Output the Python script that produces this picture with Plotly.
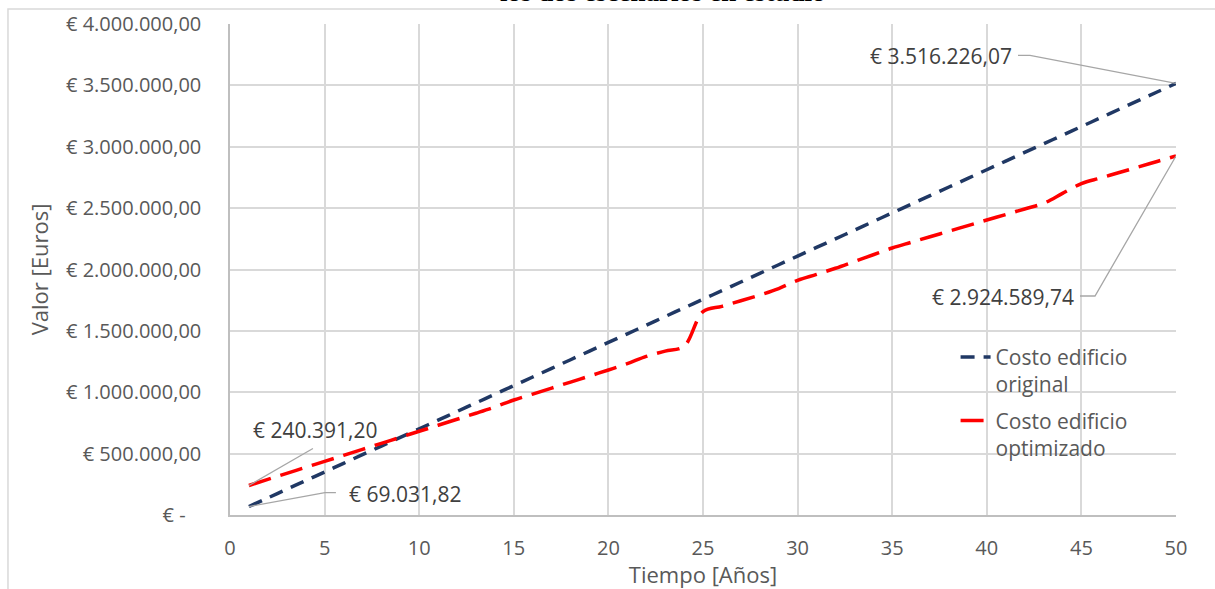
import plotly.graph_objects as go

# ---------------- data ----------------
anios = list(range(1, 51))

costo_original = [
    69031.82, 139384, 209736, 280088, 350440, 420792, 491144, 561495, 631847, 702199,
    772551, 842903, 913255, 983607, 1053959, 1124311, 1194663, 1265015, 1335367, 1405718,
    1476070, 1546422, 1616774, 1687126, 1757478, 1827830, 1898182, 1968534, 2038886, 2109238,
    2179590, 2249941, 2320293, 2390645, 2460997, 2531349, 2601701, 2672053, 2742405, 2812757,
    2883109, 2953461, 3023813, 3094164, 3164516, 3234868, 3305220, 3375572, 3445924, 3516226.07,
]

costo_optimizado = [
    240391.20, 290000, 339000, 388000, 437000, 486000, 535000, 584000, 633000, 682000,
    731000, 780000, 829000, 880000, 937000, 985000, 1034000, 1083000, 1132000, 1181000,
    1233000, 1292000, 1335000, 1375000, 1656000, 1700000, 1745000, 1792000, 1845000, 1912000,
    1960000, 2010000, 2065000, 2120000, 2175000, 2221000, 2267000, 2312000, 2358000, 2403000,
    2448000, 2493000, 2539000, 2620000, 2700000, 2745000, 2790000, 2835000, 2880000, 2924589.74,
]

nombres_series = ["Costo edificio<br>original", "Costo edificio<br>optimizado"]

y_tickvals = [0, 500000, 1000000, 1500000, 2000000, 2500000, 3000000, 3500000, 4000000]
y_ticktext = ["€ -\u00a0\u00a0\u00a0", "€ 500.000,00", "€ 1.000.000,00", "€ 1.500.000,00",
              "€ 2.000.000,00", "€ 2.500.000,00", "€ 3.000.000,00", "€ 3.500.000,00",
              "€ 4.000.000,00"]
x_tickvals = [0, 5, 10, 15, 20, 25, 30, 35, 40, 45, 50]

titulo = "los dos escenarios en estudio"
titulo_x = "Tiempo [Años]"
titulo_y = "Valor [Euros]"


def euros(v):
    s = f"{v:,.2f}".replace(",", "X").replace(".", ",").replace("X", ".")
    return "€ " + s


FONT = "Open Sans"
GRIS_TXT = "#595959"
GRIS_LBL = "#404040"
GRIS_LINEA = "#a6a6a6"

fig = go.Figure()
fig.add_trace(go.Scatter(
    x=anios, y=costo_original, mode="lines", name=nombres_series[0], legendgroup="a",
    line=dict(color="#203864", width=3.5, dash="14px,9px", shape="spline"),
))
fig.add_trace(go.Scatter(
    x=anios, y=costo_optimizado, mode="lines", name=nombres_series[1], legendgroup="b",
    line=dict(color="#ff0000", width=3.5, dash="23px,10px", shape="spline"),
))

# leader lines anchored at data points (pixel offsets, y up)
leaders = [
    (anios[-1], costo_original[-1], "M0,0 L-146,28 L-158,28"),
    (anios[-1], costo_optimizado[-1], "M0,0 L-81,-140 L-96,-140"),
    (anios[0], costo_optimizado[0], "M0,0 L64,37"),
    (anios[0], costo_original[0], "M0,0 L76,14 L87,14"),
]
for xa, ya, p in leaders:
    fig.add_shape(type="path", xref="x", yref="y", xsizemode="pixel", ysizemode="pixel",
                  xanchor=xa, yanchor=ya, path=p,
                  line=dict(color=GRIS_LINEA, width=1.3))

labels = [
    (anios[-1], costo_original[-1], "right", -162, 27),
    (anios[-1], costo_optimizado[-1], "right", -100, -141),
    (anios[0], costo_optimizado[0], "center", 66, 55),
    (anios[0], costo_original[0], "left", 98, 13),
]
for xa, ya, anc, dx, dy in labels:
    fig.add_annotation(x=xa, y=ya, xref="x", yref="y", text=euros(ya), showarrow=False,
                       xanchor=anc, yanchor="middle", xshift=dx, yshift=dy,
                       font=dict(family=FONT, size=21, color=GRIS_LBL))

# truncated title at top
fig.add_annotation(x=0.4577, y=1.065, xref="paper", yref="paper", text=f"<b>{titulo}</b>",
                   showarrow=False, xanchor="center", yanchor="middle",
                   font=dict(family="Liberation Serif", size=27, color="#000000"))

# chart-area border
fig.add_shape(type="rect", xref="paper", yref="paper", x0=-0.2347, x1=1.2, y0=-0.2, y1=1.0305,
              line=dict(color="#d9d9d9", width=1.5), layer="below")

fig.update_layout(
    width=1215, height=589,
    margin=dict(l=230, r=39, t=24, b=74, autoexpand=False),
    paper_bgcolor="white", plot_bgcolor="white",
    font=dict(family=FONT, color=GRIS_TXT),
    showlegend=True,
    legend=dict(x=0.767, y=0.363, xanchor="left", yanchor="top",
                bgcolor="rgba(0,0,0,0)", font=dict(family=FONT, size=21, color=GRIS_TXT),
                valign="top", itemwidth=30, tracegroupgap=6),
    xaxis=dict(range=[0, 50], tickvals=x_tickvals, showgrid=True, gridcolor="#d9d9d9",
               gridwidth=1.5, showline=True, linecolor="#bfbfbf", linewidth=1.5,
               zeroline=False, ticks="", ticklabelstandoff=14,
               tickfont=dict(family=FONT, size=20, color=GRIS_TXT),
               title=dict(text=titulo_x, font=dict(family=FONT, size=22, color=GRIS_TXT),
                          standoff=8)),
    yaxis=dict(range=[0, 4000000], tickvals=y_tickvals, ticktext=y_ticktext, showgrid=True,
               gridcolor="#d9d9d9", gridwidth=1.5, showline=True, linecolor="#bfbfbf",
               linewidth=1.5, zeroline=False, ticks="", ticklabelstandoff=23,
               tickfont=dict(family=FONT, size=20, color=GRIS_TXT),
               title=dict(text=titulo_y, font=dict(family=FONT, size=22, color=GRIS_TXT),
                          standoff=11)),
)

fig.write_html("out.html", config={"displayModeBar": False},
               post_script="document.body.style.margin='0';document.body.style.overflow='hidden';")
